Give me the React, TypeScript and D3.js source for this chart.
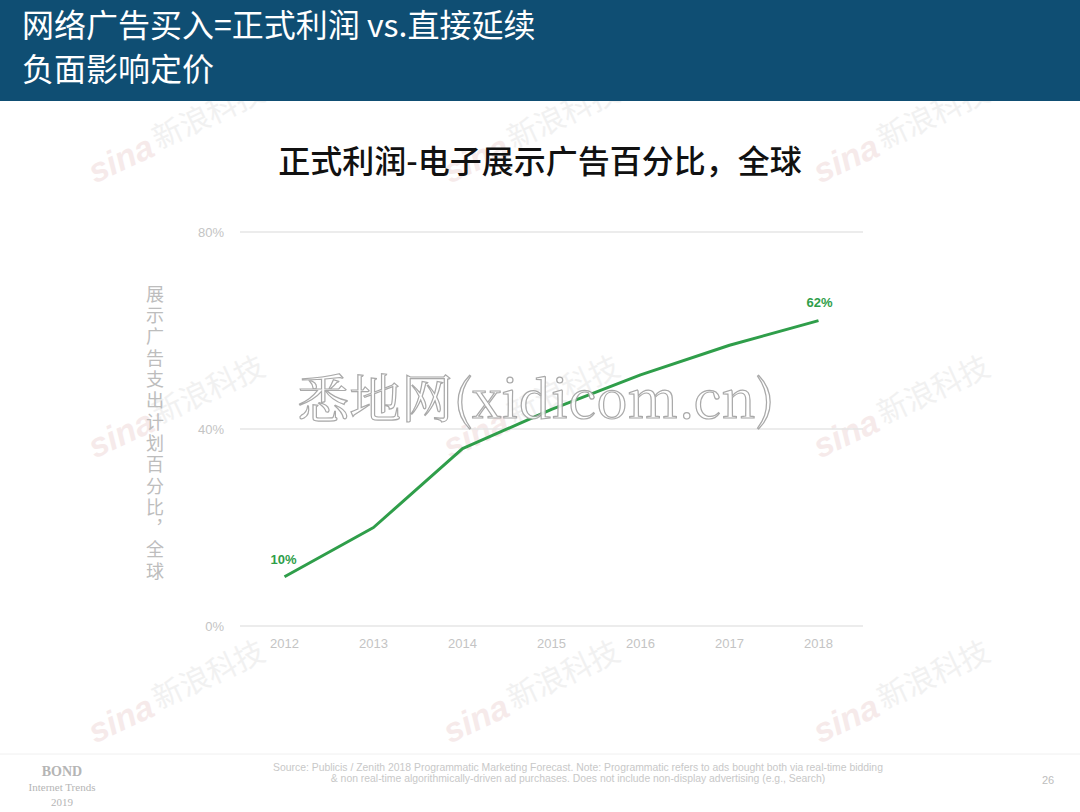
import React from "react";
import * as d3 from "d3";

const years = ["2012", "2013", "2014", "2015", "2016", "2017", "2018"];
const shares = [10, 20, 36, 44, 51, 57, 62];
const yTicks = [0, 40, 80];
const headerLines = ["网络广告买入=正式利润 vs.直接延续", "负面影响定价"];
const chartTitle = "正式利润-电子展示广告百分比，全球";
const yAxisLabel = "展示广告支出计划百分比，全球";
const sourceLines = [
  "Source: Publicis / Zenith 2018 Programmatic Marketing Forecast.  Note: Programmatic refers to ads bought both via real-time bidding",
  "& non real-time algorithmically-driven ad purchases.  Does not include non-display advertising (e.g., Search)",
];
const bondLines = ["BOND", "Internet Trends", "2019"];
const pageNumber = "26";
const watermark = "悉地网(xidicom.cn)";

const W = 1080;
const H = 812;
const CJK = "'Noto Sans CJK SC', 'Noto Sans', sans-serif";
const SANS = "'Liberation Sans', Arial, sans-serif";

export default function App() {
  const x = d3.scalePoint<string>().domain(years).range([240, 863]).padding(0.5);
  const y = d3.scaleLinear().domain([0, 80]).range([626, 232]);
  const line = d3
    .line<number>()
    .x((_, i) => x(years[i]) as number)
    .y((d) => y(d));
  const green = "#2f9e4a";
  const sinaPos: [number, number][] = [];
  [165, 520, 890].forEach((cx) => [140, 415, 700].forEach((cy) => sinaPos.push([cx, cy])));

  return (
    <svg
      width={W}
      height={H}
      viewBox={`0 0 ${W} ${H}`}
      style={{ position: "absolute", left: 0, top: 0, background: "#fff" }}
    >
      <rect x={0} y={0} width={W} height={H} fill="#fff" />
      {/* sina watermarks */}
      {sinaPos.map(([cx, cy], i) => (
        <g key={i} transform={`translate(${cx},${cy}) rotate(-25)`} opacity={0.45}>
          <text x={-82} y={10} fontFamily={SANS} fontWeight="bold" fontStyle="italic" fontSize={34} fill="#ecd2d2">
            sina
          </text>
          <text x={-10} y={6} fontFamily={CJK} fontSize={30} fill="#e2e2e2">
            新浪科技
          </text>
        </g>
      ))}
      {/* header */}
      <rect x={0} y={0} width={W} height={101} fill="#0f4e73" />
      {headerLines.map((t, i) => (
        <text key={i} x={22} y={37 + i * 44} fontFamily={CJK} fontSize={32} fill="#fff">
          {t}
        </text>
      ))}
      {/* chart title */}
      <text x={540} y={173} textAnchor="middle" fontFamily={CJK} fontSize={32} fontWeight={500} fill="#111">
        {chartTitle}
      </text>
      {/* grid */}
      {yTicks.map((t) => (
        <g key={t}>
          <line x1={240} x2={863} y1={y(t)} y2={y(t)} stroke="#e6e6e6" strokeWidth={1.5} />
          <text x={224} y={y(t) + 5} textAnchor="end" fontFamily={SANS} fontSize={13} fill="#c4c4c4">
            {t}%
          </text>
        </g>
      ))}
      {years.map((yr) => (
        <text key={yr} x={x(yr)} y={648} textAnchor="middle" fontFamily={SANS} fontSize={13} fill="#c4c4c4">
          {yr}
        </text>
      ))}
      {/* y axis label */}
      <text
        x={155}
        y={285}
        fontFamily={CJK}
        fontSize={18}
        fill="#bdbdbd"
        style={{ writingMode: "vertical-rl", letterSpacing: "3.3px" } as React.CSSProperties}
      >
        {yAxisLabel}
      </text>
      {/* line */}
      <path d={line(shares) || ""} fill="none" stroke={green} strokeWidth={3} strokeLinejoin="round" />
      <text x={(x(years[0]) as number) - 1} y={y(shares[0]) - 13} textAnchor="middle" fontFamily={SANS} fontWeight="bold" fontSize={13} fill={green}>
        {shares[0]}%
      </text>
      <text
        x={(x(years[years.length - 1]) as number) + 1}
        y={y(shares[shares.length - 1]) - 14}
        textAnchor="middle"
        fontFamily={SANS}
        fontWeight="bold"
        fontSize={13}
        fill={green}
      >
        {shares[shares.length - 1]}%
      </text>
      {/* big watermark */}
      <text
        x={536}
        y={418}
        textAnchor="middle"
        fontFamily="'Noto Serif CJK SC', 'DejaVu Serif', serif"
        fontSize={52}
        fill="#fff"
        stroke="#a0a0a0"
        strokeWidth={1.2}
        opacity={0.9}
      >
        {watermark}
      </text>
      {/* footer */}
      <line x1={0} x2={W} y1={754} y2={754} stroke="#f0f0f0" strokeWidth={1} />
      {bondLines.map((t, i) => (
        <text
          key={i}
          x={62}
          y={[776, 791, 806][i]}
          textAnchor="middle"
          fontFamily="'Liberation Serif', serif"
          fontSize={i === 0 ? 14 : 11}
          fontWeight={i === 0 ? "bold" : "normal"}
          fill="#b5b5b5"
        >
          {t}
        </text>
      ))}
      {sourceLines.map((t, i) => (
        <text key={i} x={578} y={771 + i * 11} textAnchor="middle" fontFamily={SANS} fontSize={10.4} fill="#c8c8c8">
          {t}
        </text>
      ))}
      <text x={1048} y={784} textAnchor="middle" fontFamily={SANS} fontSize={11} fill="#bdbdbd">
        {pageNumber}
      </text>
    </svg>
  );
}
